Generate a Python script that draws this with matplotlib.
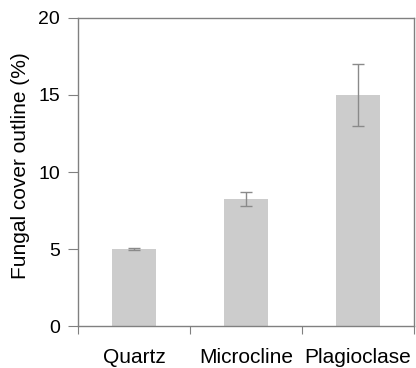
import matplotlib
matplotlib.use("Agg")
import matplotlib.pyplot as plt
import numpy as np

categories = ["Quartz", "Microcline", "Plagioclase"]
values = [5.0, 8.25, 15.0]
errors = [0.05, 0.48, 2.0]
yticks = [0, 5, 10, 15, 20]

plt.rcParams['font.family'] = ['Liberation Sans', 'DejaVu Sans']

fig = plt.figure(figsize=(4.16, 3.68), dpi=100)
ax = fig.add_axes([0.1875, 0.1141, 0.8075, 0.837])

x = np.arange(len(categories))
ax.bar(x, values, width=0.4, color="#cccccc", zorder=2)
ax.errorbar(x, values, yerr=errors, fmt="none", ecolor="#8a8a8a",
            elinewidth=1, capsize=4, capthick=1, zorder=3)

ax.set_xlim(-0.5, len(categories) - 0.5)
ax.set_ylim(0, 20)
ax.set_yticks(yticks)
ax.set_xticks(np.arange(len(categories) + 1) - 0.5)
ax.set_xticklabels([])
ax.set_xticks(x, minor=True)
ax.set_xticklabels(categories, minor=True)
ax.tick_params(axis="x", which="major", length=6, color="#808080", direction="out")
ax.tick_params(axis="x", which="minor", length=0, pad=16, labelsize=15)
ax.tick_params(axis="y", length=7, color="#808080", labelsize=14, pad=6)

for s in ax.spines.values():
    s.set_color("#808080")
    s.set_linewidth(1)

ax.set_ylabel("Fungal cover outline (%)", fontsize=15)
ax.yaxis.set_label_coords(-0.142, 0.52)

fig.savefig("out.png", dpi=100)
